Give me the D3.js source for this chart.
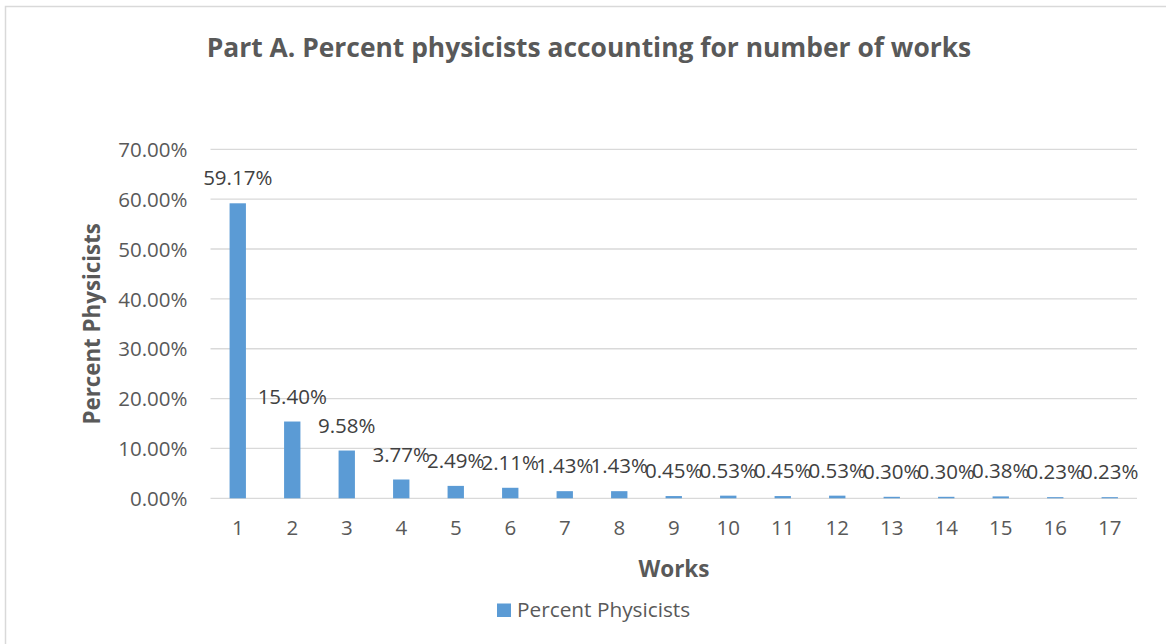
<!DOCTYPE html>
<html>
<head>
<meta charset="utf-8">
<script src="https://cdn.jsdelivr.net/npm/d3@7"></script>
<style>
  html, body { margin: 0; padding: 0; background: #fff; }
  svg text { font-family: "Open Sans", "Noto Sans", sans-serif; }
</style>
</head>
<body>
<svg id="chart" width="1166" height="644"></svg>
<script>
// Share of physicists by number of works
const works = ["1","2","3","4","5","6","7","8","9","10","11","12","13","14","15","16","17"];
const percentPhysicists = [59.17, 15.40, 9.58, 3.77, 2.49, 2.11, 1.43, 1.43, 0.45, 0.53, 0.45, 0.53, 0.30, 0.30, 0.38, 0.23, 0.23];
const yTicks = [0, 10, 20, 30, 40, 50, 60, 70];

const svg = d3.select("#chart");
const W = 1166, H = 644;
const plot = { left: 210.5, right: 1137, top: 149.3, bottom: 498.3 };
const labelSize = 20.5;

// outer chart frame
svg.append("rect")
  .attr("x", 5.5).attr("y", 6.5)
  .attr("width", W + 10).attr("height", H + 10)
  .attr("fill", "#fff").attr("stroke", "#d9d9d9").attr("stroke-width", 1.5);

const x = d3.scaleBand().domain(works).range([plot.left, plot.right]).paddingInner(0.7).paddingOuter(0.35);
const y = d3.scaleLinear().domain([0, 70]).range([plot.bottom, plot.top]);

// gridlines
svg.append("g").selectAll("line").data(yTicks).join("line")
  .attr("x1", plot.left).attr("x2", plot.right)
  .attr("y1", d => y(d)).attr("y2", d => y(d))
  .attr("stroke", "#d9d9d9").attr("stroke-width", 1.3);

// y axis labels
const yAxis = d3.axisLeft(y).tickValues(yTicks).tickSize(0).tickPadding(0)
  .tickFormat(d => d.toFixed(2) + "%");
const gy = svg.append("g").attr("transform", `translate(${plot.left - 23},0)`).call(yAxis);
gy.select(".domain").remove();
gy.selectAll("text").attr("fill", "#595959").attr("font-size", labelSize).attr("dy", "0.35em");

// x axis labels
const xAxis = d3.axisBottom(x).tickSize(0).tickPadding(0);
const gx = svg.append("g").attr("transform", `translate(0,${plot.bottom})`).call(xAxis);
gx.select(".domain").remove();
gx.selectAll("text").attr("fill", "#595959").attr("font-size", labelSize).attr("y", 37).attr("dy", 0);

// bars
svg.append("g").selectAll("rect").data(percentPhysicists).join("rect")
  .attr("x", (d, i) => x(works[i]))
  .attr("width", x.bandwidth())
  .attr("y", d => y(d))
  .attr("height", d => y(0) - y(d))
  .attr("fill", "#5b9bd5");

// value labels
svg.append("g").selectAll("text").data(percentPhysicists).join("text")
  .attr("x", (d, i) => x(works[i]) + x.bandwidth() / 2)
  .attr("y", d => y(d) - 18)
  .attr("text-anchor", "middle")
  .attr("fill", "#404040").attr("font-size", labelSize)
  .text(d => d.toFixed(2) + "%");

// title
svg.append("text")
  .attr("x", 589).attr("y", 57)
  .attr("text-anchor", "middle")
  .attr("fill", "#595959").attr("font-size", 26.4).attr("font-weight", "bold")
  .text("Part A. Percent physicists accounting for number of works");

// axis titles
svg.append("text")
  .attr("x", 674).attr("y", 577)
  .attr("text-anchor", "middle")
  .attr("fill", "#595959").attr("font-size", 22.5).attr("font-weight", "bold")
  .text("Works");

svg.append("text")
  .attr("transform", `translate(100,${(plot.top + plot.bottom) / 2}) rotate(-90)`)
  .attr("text-anchor", "middle")
  .attr("fill", "#595959").attr("font-size", 22.3).attr("font-weight", "bold")
  .text("Percent Physicists");

// legend
const lg = svg.append("g").attr("transform", "translate(497,603.5)");
lg.append("rect").attr("width", 14).attr("height", 13.5).attr("fill", "#5b9bd5");
lg.append("text").attr("x", 20).attr("y", 13)
  .attr("fill", "#595959").attr("font-size", 20.8)
  .text("Percent Physicists");
</script>
</body>
</html>
